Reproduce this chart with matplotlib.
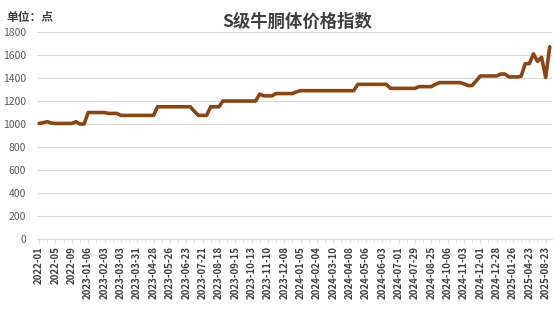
import matplotlib
matplotlib.use("Agg")
import matplotlib.pyplot as plt
import numpy as np

plt.rcParams['font.family'] = ['Noto Sans CJK SC', 'DejaVu Sans']

title = "S级牛胴体价格指数"
unit_label = "单位：点"

tick_labels = [
    "2022-01", "2022-05", "2022-09", "2023-01-06", "2023-02-03", "2023-03-03",
    "2023-03-31", "2023-04-28", "2023-05-26", "2023-06-23", "2023-07-21",
    "2023-08-18", "2023-09-15", "2023-10-13", "2023-11-10", "2023-12-08",
    "2024-01-05", "2024-02-04", "2024-03-10", "2024-04-08", "2024-05-06",
    "2024-06-03", "2024-07-01", "2024-07-29", "2024-08-25", "2024-10-06",
    "2024-11-03", "2024-12-01", "2024-12-28", "2025-01-26", "2025-04-23",
    "2025-08-23",
]

index_values = [
    1005, 1012, 1020, 1008, 1005, 1005, 1005, 1005, 1005, 1020,  # 0-9
    1000, 1000, 1100, 1100, 1100, 1100, 1100, 1092, 1092, 1092,  # 10-19
    1075, 1075, 1075, 1075, 1075, 1075, 1075, 1075, 1075, 1150,  # 20-29
    1150, 1150, 1150, 1150, 1150, 1150, 1150, 1150, 1110, 1075,  # 30-39
    1075, 1075, 1150, 1150, 1150, 1200, 1200, 1200, 1200, 1200,  # 40-49
    1200, 1200, 1200, 1200, 1260, 1245, 1245, 1245, 1265, 1265,  # 50-59
    1265, 1265, 1265, 1280, 1290, 1290, 1290, 1290, 1290, 1290,  # 60-69
    1290, 1290, 1290, 1290, 1290, 1290, 1290, 1290, 1345, 1345,  # 70-79
    1345, 1345, 1345, 1345, 1345, 1345, 1310, 1310, 1310, 1310,  # 80-89
    1310, 1310, 1310, 1325, 1325, 1325, 1325, 1345, 1360, 1360,  # 90-99
    1360, 1360, 1360, 1360, 1350, 1335, 1335, 1375, 1418, 1418,  # 100-109
    1418, 1418, 1418, 1435, 1435, 1410, 1410, 1410, 1415, 1525,  # 110-119
    1525, 1610, 1545, 1580, 1405, 1672,                          # 120-125
]

line_color = "#8B4513"
grid_color = "#D9D9D9"
text_color = "#595959"
dark_text = "#404040"

fig = plt.figure(figsize=(5.54, 3.11), dpi=100)
ax = fig.add_axes([0.067, 0.2315, 0.929, 0.6655])

x = np.arange(len(index_values))
ax.plot(x, index_values, color=line_color, linewidth=2.6,
        solid_joinstyle='round', solid_capstyle='round')

ax.set_ylim(0, 1800)
ax.set_yticks(np.arange(0, 1801, 200))
ax.set_xlim(-0.5, len(index_values) - 0.5)

label_pos = np.arange(0, 4 * len(tick_labels), 4)
ax.set_xticks(label_pos)
ax.set_xticklabels(tick_labels, rotation=90, fontsize=7, fontweight='bold', color=dark_text)
ax.set_xticks(np.arange(0, len(index_values), 2), minor=True)
ax.tick_params(axis='x', which='major', length=3, color=grid_color, pad=2)
ax.tick_params(axis='x', which='minor', length=3, color=grid_color)
ax.tick_params(axis='y', length=0, labelsize=7.5, labelcolor=text_color, pad=8)

ax.grid(axis='y', color=grid_color, linewidth=0.8)
ax.set_axisbelow(True)
for s in ['top', 'right', 'left']:
    ax.spines[s].set_visible(False)
ax.spines['bottom'].set_color(grid_color)
ax.spines['bottom'].set_linewidth(0.8)

fig.text(0.536, 0.93, title, ha='center', va='center', fontsize=12.5,
         fontweight='bold', color=dark_text)
fig.text(0.012, 0.945, unit_label, ha='left', va='center', fontsize=8.5,
         fontweight='bold', color=dark_text)

fig.savefig("out.png", dpi=100)
